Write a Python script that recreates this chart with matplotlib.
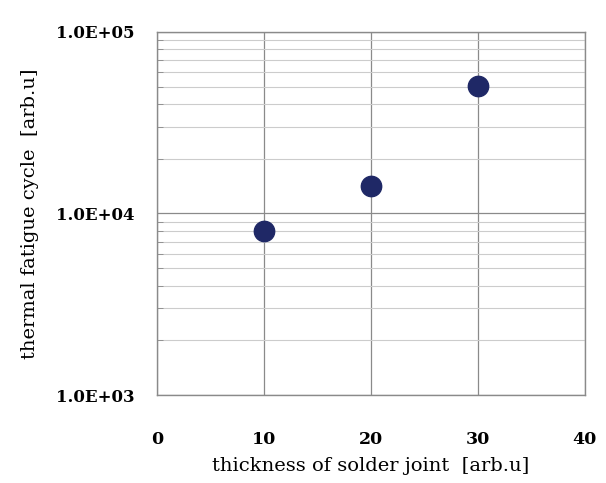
import numpy as np
import matplotlib.pyplot as plt
from matplotlib.ticker import LogLocator, NullFormatter

thickness = [10, 20, 30]
cycles = [8000, 14200, 50500]

xticks = [0, 10, 20, 30, 40]
yticks = [1e3, 1e4, 1e5]
ylabels = ["1.0E+03", "1.0E+04", "1.0E+05"]

plt.rcParams['font.family'] = ['DejaVu Serif']

fig = plt.figure(figsize=(6.06, 4.83), dpi=100)
ax = fig.add_axes([0.259, 0.182, 0.706, 0.752])

ax.set_yscale('log')
ax.set_xlim(0, 40)
ax.set_ylim(1e3, 1e5)

ax.set_xticks(xticks)
ax.set_xticklabels([str(v) for v in xticks], fontsize=12.5, fontweight='bold')
ax.set_yticks(yticks)
ax.set_yticklabels(ylabels, fontsize=12, fontweight='bold')
ax.yaxis.set_minor_locator(LogLocator(base=10, subs=np.arange(2, 10)))
ax.yaxis.set_minor_formatter(NullFormatter())

ax.tick_params(axis='x', which='major', length=0, pad=26)
ax.tick_params(axis='y', which='major', length=0, pad=16)
ax.tick_params(axis='y', which='minor', direction='in', length=4, color='#888888')

ax.grid(True, axis='x', which='major', color='#8a8a8a', lw=0.9)
ax.grid(True, axis='y', which='major', color='#8a8a8a', lw=0.9)
ax.grid(True, axis='y', which='minor', color='#cccccc', lw=0.8)

for s in ax.spines.values():
    s.set_color('#8a8a8a')
    s.set_linewidth(1.0)

ax.scatter(thickness, cycles, s=215, color='#1f2866', zorder=3)

ax.set_xlabel("thickness of solder joint  [arb.u]", fontsize=14, labelpad=6)
ax.set_ylabel("thermal fatigue cycle  [arb.u]", fontsize=14, labelpad=12)

fig.savefig("out.png", dpi=100)
